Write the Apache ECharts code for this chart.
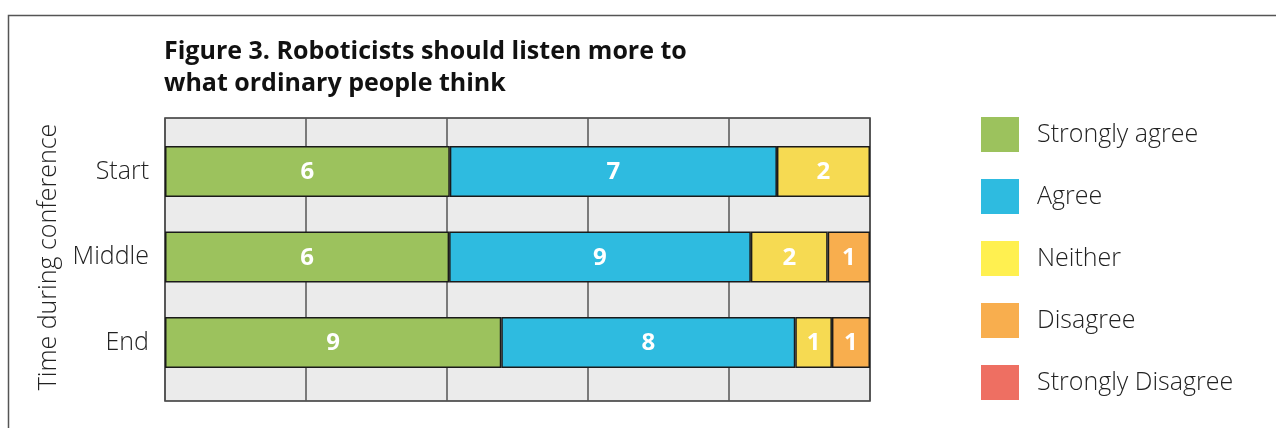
<!DOCTYPE html>
<html>
<head>
<meta charset="utf-8">
<script src="https://cdn.jsdelivr.net/npm/echarts@6/dist/echarts.min.js"></script>
<style>html,body{margin:0;padding:0;background:#fff;}#c{width:1276px;height:428px;}</style>
</head>
<body>
<div id="c"></div>
<script>
// Categories (top to bottom)
const categories = ['Start', 'Middle', 'End'];
const seriesNames = ['Strongly agree', 'Agree', 'Neither', 'Disagree', 'Strongly Disagree'];
// Counts printed on the bars
const countStronglyAgree = [6, 6, 9];
const countAgree = [7, 9, 8];
const countNeither = [2, 2, 1];
const countDisagree = [null, 1, 1];
const countStronglyDisagree = [null, null, null];
// Bar lengths as share of the row (%)
const shareStronglyAgree = [40.4, 40.3, 47.7];
const shareAgree = [46.4, 42.8, 41.7];
const shareNeither = [13.2, 10.9, 5.2];
const shareDisagree = [null, 6.0, 5.4];
const shareStronglyDisagree = [null, null, null];
const xTicks = [0, 20, 40, 60, 80, 100];

const counts = [countStronglyAgree, countAgree, countNeither, countDisagree, countStronglyDisagree];
const shares = [shareStronglyAgree, shareAgree, shareNeither, shareDisagree, shareStronglyDisagree];
const barColors = ['#9cc25d', '#2ebbe0', '#f6da52', '#f8ae4e', '#ee6f62'];
const legendColors = ['#9cc25d', '#2ebbe0', '#fff050', '#f8ae4e', '#ee6f62'];

const chart = echarts.init(document.getElementById('c'));
const font = "'Open Sans', 'Noto Sans', sans-serif";

const series = seriesNames.map((name, i) => ({
  name: name,
  type: 'bar',
  stack: 'total',
  xAxisIndex: 1,
  yAxisIndex: 1,
  barWidth: 51,
  data: shares[i],
  itemStyle: { color: barColors[i], borderColor: '#1a1a1a', borderWidth: 1.5 },
  label: {
    show: true,
    position: 'inside',
    offset: [0, 1],
    color: '#fff',
    fontFamily: font,
    fontWeight: 'bold',
    fontSize: 24,
    formatter: p => (counts[i][p.dataIndex] == null ? '' : String(counts[i][p.dataIndex]))
  }
}));

chart.setOption({
  animation: false,
  backgroundColor: '#fff',
  title: {
    text: 'Figure 3. Roboticists should listen more to\nwhat ordinary people think',
    left: 164,
    top: 36,
    padding: 0,
    textStyle: { fontFamily: font, fontWeight: 'bold', fontSize: 25, lineHeight: 32, color: '#111' }
  },
  legend: {
    orient: 'vertical',
    left: 981,
    top: 117,
    padding: 0,
    itemWidth: 38,
    itemHeight: 35,
    itemGap: 27,
    icon: 'rect',
    itemStyle: { borderWidth: 0 },
    textStyle: { fontFamily: font, fontSize: 25, fontWeight: 300, color: '#222', padding: [2, 0, 0, 13] },
    data: seriesNames.map((n, i) => ({ name: n, itemStyle: { color: legendColors[i], borderWidth: 0 } }))
  },
  grid: [
    { left: 165, top: 118, width: 705, height: 283, show: true, backgroundColor: '#ebebeb', borderColor: '#333', borderWidth: 1.5, z: 0 },
    { left: 165, top: 128.75, width: 705, height: 256.5, show: false }
  ],
  xAxis: [
    { type: 'value', gridIndex: 0, min: xTicks[0], max: xTicks[xTicks.length - 1], interval: xTicks[1] - xTicks[0],
      axisLabel: { show: false }, axisLine: { show: false }, axisTick: { show: false },
      splitLine: { show: true, lineStyle: { color: '#555', width: 1.5 } } },
    { type: 'value', gridIndex: 1, min: 0, max: 100, show: false, splitLine: { show: false } }
  ],
  yAxis: [
    { type: 'value', gridIndex: 0, show: false, splitLine: { show: false } },
    { type: 'category', gridIndex: 1, data: categories, inverse: true,
      axisLine: { show: false }, axisTick: { show: false }, splitLine: { show: false },
      axisLabel: { fontFamily: font, fontSize: 25, fontWeight: 300, color: '#222', margin: 16 },
      name: 'Time during conference', nameLocation: 'middle', nameRotate: 90, nameGap: 104,
      nameTextStyle: { fontFamily: font, fontSize: 25, fontWeight: 300, color: '#222' } }
  ],
  graphic: [
    { type: 'rect', z: -10, silent: true, shape: { x: 8.5, y: 15.5, width: 1400, height: 600 },
      style: { fill: 'none', stroke: '#555', lineWidth: 1.5 } }
  ],
  series: series
});
</script>
</body>
</html>
